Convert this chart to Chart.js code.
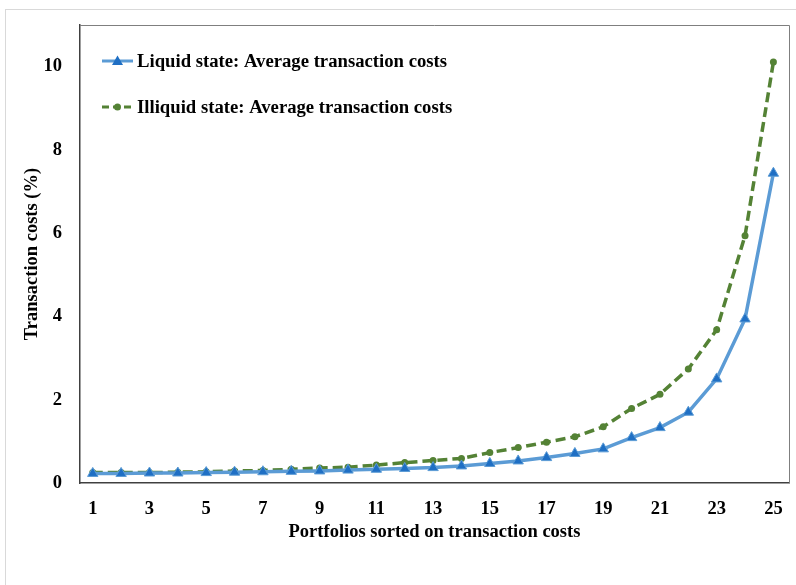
<!DOCTYPE html>
<html>
<head>
<meta charset="utf-8">
<script src="https://cdn.jsdelivr.net/npm/chart.js@4.4.0/dist/chart.umd.min.js"></script>
<style>
  html, body { margin: 0; padding: 0; background: #fff; }
  #wrap { position: relative; width: 796px; height: 585px; }
  #frame { position: absolute; left: 5px; top: 9px; width: 820px; height: 600px; border: 1px solid #d9d9d9; }
  #lineChart { position: absolute; left: 0; top: 0; }
</style>
</head>
<body>
<div id="wrap">
  <div id="frame"></div>
  <canvas id="lineChart" width="796" height="585"></canvas>
</div>
<script>
// ---------------- DATA -----------------------------
const portfolios = [1, 2, 3, 4, 5, 6, 7, 8, 9, 10, 11, 12, 13, 14, 15, 16, 17, 18, 19, 20, 21, 22, 23, 24, 25];
const liquidCosts = [0.23, 0.23, 0.24, 0.24, 0.25, 0.26, 0.27, 0.28, 0.29, 0.31, 0.33, 0.35, 0.37, 0.41, 0.47, 0.53, 0.61, 0.71, 0.82, 1.09, 1.33, 1.70, 2.50, 3.94, 7.44];
const illiquidCosts = [0.25, 0.25, 0.25, 0.26, 0.27, 0.29, 0.30, 0.33, 0.36, 0.38, 0.43, 0.49, 0.54, 0.59, 0.73, 0.85, 0.98, 1.11, 1.35, 1.79, 2.13, 2.74, 3.68, 5.94, 10.11];
const xTicks = [1, 3, 5, 7, 9, 11, 13, 15, 17, 19, 21, 23, 25];
const yTicks = [0, 2, 4, 6, 8, 10];
const seriesNames = ["Liquid state: Average transaction costs", "Illiquid state: Average transaction costs"];

const FONT = "'Liberation Serif', 'Times New Roman', serif";
const BLUE = "#5b9bd5";
const BLUE_DARK = "#1f6fc4";
const GREEN = "#548235";

// custom legend + plot frame
const frameAndLegend = {
  id: "frameAndLegend",
  afterDraw(chart) {
    const { ctx, chartArea: a } = chart;
    ctx.save();
    ctx.strokeStyle = "#7f7f7f";
    ctx.lineWidth = 1;
    ctx.beginPath();
    ctx.moveTo(a.left, a.top + 0.5);
    ctx.lineTo(a.right + 0.5, a.top + 0.5);
    ctx.lineTo(a.right + 0.5, a.bottom);
    ctx.stroke();

    const items = [
      { y: 61, color: BLUE, dash: [], text: seriesNames[0], marker: "triangle" },
      { y: 107, color: GREEN, dash: [7, 4], text: seriesNames[1], marker: "circle" },
    ];
    items.forEach((it) => {
      ctx.strokeStyle = it.color;
      ctx.lineWidth = 3;
      ctx.setLineDash(it.dash);
      ctx.beginPath();
      ctx.moveTo(102, it.y);
      ctx.lineTo(133, it.y);
      ctx.stroke();
      ctx.setLineDash([]);
      if (it.marker === "triangle") {
        ctx.fillStyle = BLUE_DARK;
        ctx.beginPath();
        ctx.moveTo(117.5, it.y - 5.5);
        ctx.lineTo(123, it.y + 4);
        ctx.lineTo(112, it.y + 4);
        ctx.closePath();
        ctx.fill();
      } else {
        ctx.fillStyle = GREEN;
        ctx.beginPath();
        ctx.arc(117.5, it.y, 3.5, 0, Math.PI * 2);
        ctx.fill();
      }
      ctx.fillStyle = "#000";
      ctx.font = "bold 18.7px " + FONT;
      ctx.textBaseline = "middle";
      ctx.textAlign = "left";
      ctx.fillText(it.text, 137, it.y + 1);
    });
    ctx.restore();
  },
};

const lineChartData = {
  datasets: [
    {
      label: seriesNames[0],
      data: portfolios.map((p, i) => ({ x: p, y: liquidCosts[i] })),
      borderColor: BLUE,
      backgroundColor: BLUE_DARK,
      borderWidth: 3.5,
      pointStyle: "triangle",
      pointRadius: 6,
      pointBackgroundColor: BLUE_DARK,
      pointBorderColor: BLUE,
      pointBorderWidth: 1,
      tension: 0,
    },
    {
      label: seriesNames[1],
      data: portfolios.map((p, i) => ({ x: p, y: illiquidCosts[i] })),
      borderColor: GREEN,
      backgroundColor: GREEN,
      borderWidth: 3.5,
      borderDash: [10, 5],
      pointStyle: "circle",
      pointRadius: 3.5,
      pointBackgroundColor: GREEN,
      pointBorderColor: GREEN,
      pointBorderWidth: 0,
      tension: 0,
    },
  ],
};

const lineChartConfig = {
  type: "line",
  data: lineChartData,
  plugins: [frameAndLegend],
  options: {
    responsive: false,
    animation: false,
    layout: { padding: { top: 25, right: 3, left: 0, bottom: 0 } },
    plugins: { legend: { display: false }, tooltip: { enabled: false } },
    scales: {
      x: {
        type: "linear",
        min: 0.55,
        max: 25.55,
        afterBuildTicks: (s) => { s.ticks = xTicks.map((v) => ({ value: v })); },
        afterFit: (s) => { s.height = 102; },
        grid: { display: false },
        border: { display: true, color: "#404040", width: 1.5 },
        ticks: { color: "#000", padding: 7, font: { family: FONT, size: 18.5, weight: "bold" } },
        title: {
          display: true,
          text: "Portfolios sorted on transaction costs",
          color: "#000",
          padding: { top: 0, bottom: 42 },
          font: { family: FONT, size: 18.5, weight: "bold" },
        },
      },
      y: {
        min: 0,
        max: 11,
        afterBuildTicks: (s) => { s.ticks = yTicks.map((v) => ({ value: v })); },
        afterFit: (s) => { s.width = 80; },
        grid: { display: false },
        border: { display: true, color: "#404040", width: 1.5 },
        ticks: { color: "#000", padding: 10, font: { family: FONT, size: 18.5, weight: "bold" } },
        title: {
          display: true,
          text: "Transaction costs (%)",
          color: "#000",
          padding: { top: 21, bottom: 0 },
          font: { family: FONT, size: 18.5, weight: "bold" },
        },
      },
    },
  },
};

// RENDER THE CHART
const lineChart = new Chart(document.getElementById("lineChart"), lineChartConfig);
</script>
</body>
</html>
